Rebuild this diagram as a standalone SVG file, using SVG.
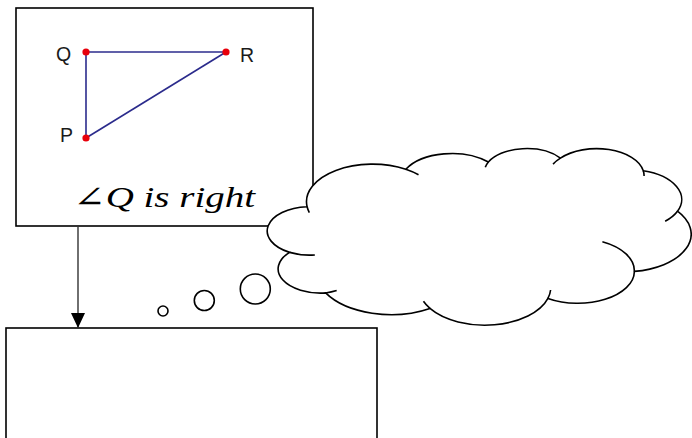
<svg xmlns="http://www.w3.org/2000/svg" width="692" height="438" viewBox="0 0 692 438">
<style>
.box{fill:#fff;stroke:#000;stroke-width:1.6}
.dot{fill:#e8000b}
.lbl{font-family:"Liberation Sans",Arial,sans-serif;font-size:19.5px;fill:#1a1a1a}
.math{font-family:"Liberation Serif","DejaVu Serif",serif;font-style:italic;font-size:29px;fill:#000}
.cl{fill:#fff;stroke:#000;stroke-width:1.6}
.tail{fill:none;stroke:#000;stroke-width:1.6}
.bub{fill:#fff;stroke:#000;stroke-width:1.6}
.tri{stroke:#2b2b8c;stroke-width:1.6}
</style>
<defs>
<marker id="ah" markerWidth="15" markerHeight="14" refX="15" refY="7" orient="auto" markerUnits="userSpaceOnUse" viewBox="0 0 15 14">
<path d="M0,0 L15,7 L0,14 Z" fill="#000"/>
</marker>
</defs>
<g id="top-box">
<rect class="box" x="16" y="8" width="297" height="218"/>
<line class="tri" x1="86" y1="52" x2="226" y2="52"/>
<line class="tri" x1="86" y1="52" x2="86" y2="138"/>
<line class="tri" x1="86" y1="138" x2="226" y2="52"/>
<circle class="dot" cx="86" cy="52" r="3.6"/>
<circle class="dot" cx="226" cy="52" r="3.6"/>
<circle class="dot" cx="86" cy="138" r="3.6"/>
<text class="lbl" x="56" y="61">Q</text>
<text class="lbl" x="240" y="62">R</text>
<text class="lbl" x="60" y="142">P</text>
<text class="math" x="73" y="207" textLength="182" lengthAdjust="spacingAndGlyphs">∠Q is right</text>
</g>
<g id="bottom-box">
<rect class="box" x="6" y="328" width="371" height="130"/>
</g>
<g id="connectors">
<line x1="78" y1="226" x2="78" y2="328" stroke="#333" stroke-width="1.4" marker-end="url(#ah)"/>
</g>
<g id="cloud" transform="translate(269,148) scale(0.0097685,0.0040856)">
<path class="cl" vector-effect="non-scaling-stroke" d="M3900,14370 A6753,9190 0 0 1 14004.9,5202.1 A5333,7267 0 0 1 22456.9,3433.6 A4365,5945 0 0 1 29833.7,2483 A4857,6595 0 0 1 38317.4,5580.5 A5333,7273 0 0 1 41817.7,15464.2 A6775,9220 0 0 1 37403.4,30207.3 A5785,7867 0 0 1 28554.7,36817.2 A6752,9215 0 0 1 16478.3,39266.1 A7720,10543 0 0 1 5801.4,35470.6 A4360,5918 0 0 1 2112.1,25546 A4345,5945 0 0 1 3900,14370 Z"/>
<path class="tail" vector-effect="non-scaling-stroke" d="M14004.9,5202.1 A6753,9190 0 0 1 15306.4,6552.5 M22141,4720 A4365,5945 0 0 1 22456.9,3433.6 M29078,3952 A4857,6595 0 0 1 29833.7,2483 M38317.4,5580.5 A4857,6595 0 0 1 38396.8,6844.4 M41817.7,15464.2 A5333,7273 0 0 1 40553.4,17917.1 M34129,22954 A5785,7867 0 0 1 37403.4,30207.3 M28827,34751 A6752,9215 0 0 1 28554.7,36817.2 M16478.3,39266.1 A6752,9215 0 0 1 15811.4,37527.9 M6928,34899 A4360,5918 0 0 1 5801.4,35470.6 M4693,26177 A4345,5945 0 0 1 2112.1,25546 M4127,15789 A6753,9190 0 0 1 3900,14370"/>
</g>
<g id="bubbles">
<circle class="bub" cx="163" cy="311" r="5"/>
<circle class="bub" cx="204.3" cy="300.5" r="10"/>
<circle class="bub" cx="255.3" cy="289" r="15"/>
</g>
</svg>
